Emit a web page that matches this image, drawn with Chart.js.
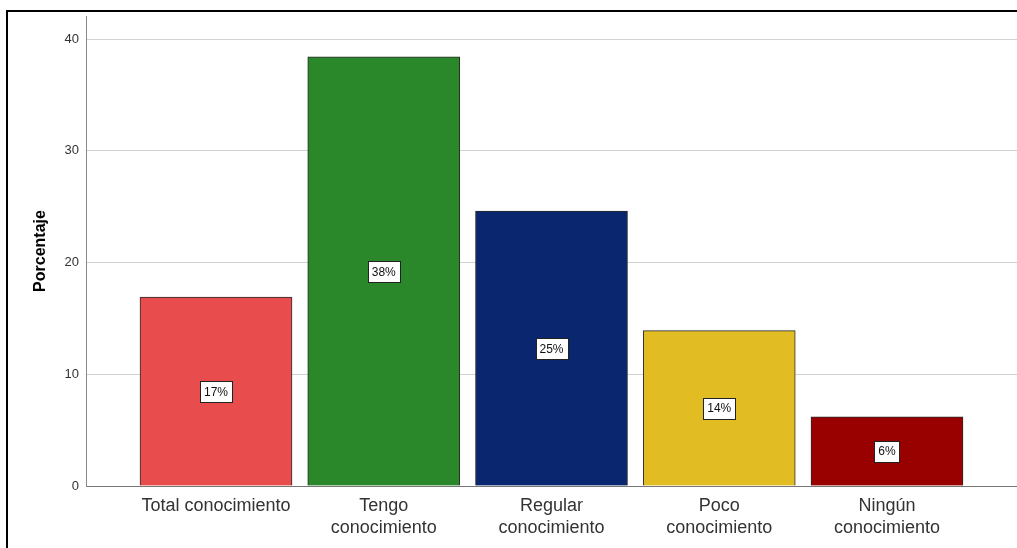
<!DOCTYPE html>
<html>
<head>
<meta charset="utf-8">
<style>
  html, body { margin: 0; padding: 0; background: #fff; }
  #wrap { position: relative; width: 1017px; height: 548px; overflow: hidden; }
  #frame { position: absolute; left: 6px; top: 10px; right: -4px; bottom: -4px;
           border-left: 2px solid #000; border-top: 2px solid #000; pointer-events: none; }
  canvas { position: absolute; left: 0; top: 0; }
</style>
<script src="https://cdn.jsdelivr.net/npm/chart.js@4/dist/chart.umd.min.js"></script>
</head>
<body>
<div id="wrap">
  <canvas id="chart" width="1017" height="548"></canvas>
  <div id="frame"></div>
</div>
<script>
// Nivel de conocimiento (porcentaje de encuestados)
const categories = [
  ['Total conocimiento'],
  ['Tengo', 'conocimiento'],
  ['Regular', 'conocimiento'],
  ['Poco', 'conocimiento'],
  ['Ningún', 'conocimiento']
];
const percentages = [16.9, 38.4, 24.6, 13.9, 6.2];
const barColors = ['#E84C4C', '#2A872A', '#0A266E', '#E2BC23', '#990000'];
const yTicks = [0, 10, 20, 30, 40];

const FONT = "Arial, 'Liberation Sans', sans-serif";

// White boxed value label centred in each bar
const valueLabels = {
  id: 'valueLabels',
  afterDatasetsDraw(chart) {
    const ctx = chart.ctx;
    const meta = chart.getDatasetMeta(0);
    ctx.save();
    ctx.font = '12px ' + FONT;
    ctx.textAlign = 'center';
    ctx.textBaseline = 'middle';
    meta.data.forEach((bar, i) => {
      const text = Math.round(percentages[i]) + '%';
      const cx = bar.x;
      const cy = (bar.y + bar.base) / 2;
      const w = Math.round(ctx.measureText(text).width) + 8;
      const h = 21;
      const x0 = Math.round(cx - w / 2) + 0.5;
      const y0 = Math.round(cy - h / 2) + 0.5;
      ctx.fillStyle = '#fff';
      ctx.fillRect(x0, y0, w, h);
      ctx.strokeStyle = '#222';
      ctx.lineWidth = 1;
      ctx.strokeRect(x0, y0, w, h);
      ctx.fillStyle = '#111';
      ctx.fillText(text, cx, cy + 1);
    });
    ctx.restore();
  }
};

new Chart(document.getElementById('chart'), {
  type: 'bar',
  data: {
    datasets: [{
      data: percentages.map((v, i) => ({ x: i, y: v })),
      backgroundColor: barColors,
      borderColor: '#2a2a2a',
      borderWidth: 1,
      barThickness: 152
    }]
  },
  options: {
    responsive: false,
    animation: false,
    devicePixelRatio: 1,
    layout: { padding: { top: 16, left: 0, right: 0, bottom: 0 } },
    plugins: { legend: { display: false }, tooltip: { enabled: false } },
    scales: {
      x: {
        type: 'linear',
        offset: false,
        min: -0.775,
        max: 4.775,
        afterFit(scale) { scale.height = 62; },
        afterBuildTicks(scale) { scale.ticks = categories.map((_, i) => ({ value: i })); },
        grid: { display: false, drawTicks: false, offset: false },
        border: { display: true, color: '#777', width: 1 },
        ticks: {
          autoSkip: false,
          maxRotation: 0,
          padding: 10,
          color: '#333',
          font: { family: FONT, size: 18, lineHeight: 1.17 },
          callback: (v) => categories[v]
        }
      },
      y: {
        min: 0,
        max: 42.06,
        afterFit(scale) { scale.width = 86; },
        afterBuildTicks(scale) { scale.ticks = yTicks.map(v => ({ value: v })); },
        grid: { color: '#d2d2d2', lineWidth: 1, drawTicks: false },
        border: { display: true, color: '#8a8a8a', width: 1 },
        ticks: {
          padding: 7,
          color: '#333',
          font: { family: FONT, size: 13 }
        },
        title: {
          display: true,
          text: 'Porcentaje',
          color: '#000',
          padding: { top: 31, bottom: 0 },
          font: { family: FONT, size: 16, weight: 'bold' }
        }
      }
    }
  },
  plugins: [valueLabels]
});
</script>
</body>
</html>
